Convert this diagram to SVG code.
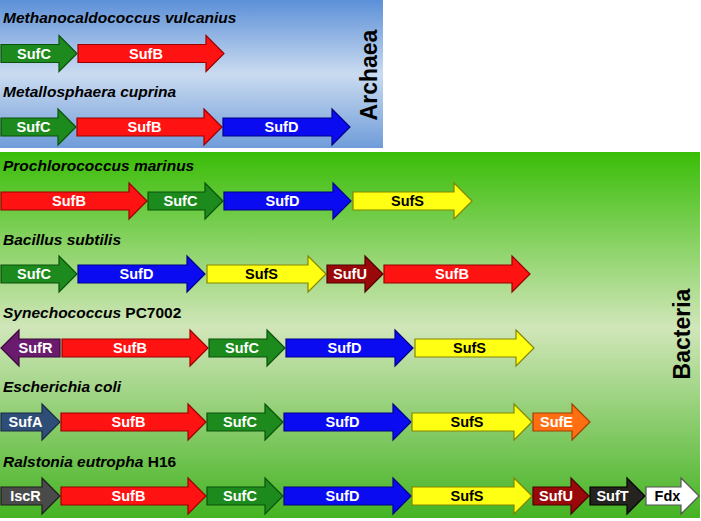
<svg xmlns="http://www.w3.org/2000/svg" width="701" height="521" viewBox="0 0 701 521">
<defs>
<linearGradient id="gArch" x1="0" y1="0" x2="0" y2="1">
<stop offset="0" stop-color="#5c90d8"/>
<stop offset="0.5" stop-color="#cadbf0"/>
<stop offset="1" stop-color="#6f9cd9"/>
</linearGradient>
<linearGradient id="gBact" x1="0" y1="0" x2="0" y2="1">
<stop offset="0" stop-color="#3abd08"/>
<stop offset="0.48" stop-color="#d1e6b9"/>
<stop offset="1" stop-color="#44b322"/>
</linearGradient>
</defs>
<style>
.t{font-family:"Liberation Sans",Arial,sans-serif;font-weight:bold;font-size:15.5px;fill:#000}
.i{font-style:italic}
.lab{font-family:"Liberation Sans",Arial,sans-serif;font-weight:bold;font-size:14.5px;fill:#fff;text-anchor:middle}
.dk{fill:#000}
.dom{font-family:"Liberation Sans",Arial,sans-serif;font-weight:bold;font-size:23px;fill:#000;text-anchor:middle}
.a{stroke-width:1.2;stroke-linejoin:miter}
.sufC{fill:#1c8a1c;stroke:#0b520b}
.sufB{fill:#ff1212;stroke:#9a0000}
.sufD{fill:#0b0bf2;stroke:#000088}
.sufS{fill:#ffff14;stroke:#858500}
.sufU{fill:#990909;stroke:#4c0000}
.sufR{fill:#6b1b6d;stroke:#380a3a}
.sufA{fill:#2e4e78;stroke:#182a44}
.sufE{fill:#ff6f12;stroke:#a04000}
.iscR{fill:#4a4a4a;stroke:#1e1e1e}
.sufT{fill:#252320;stroke:#000}
.fdx{fill:#ffffff;stroke:#555}
</style>

<rect id="archaea-bg" x="0" y="0" width="383" height="148" fill="url(#gArch)"/>
<rect id="bacteria-bg" x="0" y="152" width="700" height="366" fill="url(#gBact)"/>

<text class="dom" transform="translate(377,75) rotate(-90)" x="0" y="0">Archaea</text>
<text class="dom" transform="translate(690,334) rotate(-90)" x="0" y="0">Bacteria</text>

<g id="org-mvulcanius">
<text class="t i" x="3" y="23">Methanocaldococcus vulcanius</text>
<g id="mv-sufC"><polygon class="a sufC" points="1,44.5 59,44.5 59,35.5 77,53.5 59,71.5 59,62.5 1,62.5"/><text class="lab" x="34" y="58.5">SufC</text></g>
<g id="mv-sufB"><polygon class="a sufB" points="78,44.5 206,44.5 206,35.5 224,53.5 206,71.5 206,62.5 78,62.5"/><text class="lab" x="146" y="58.5">SufB</text></g>
</g>

<g id="org-mcuprina">
<text class="t i" x="3" y="97">Metallosphaera cuprina</text>
<g id="mc-sufC"><polygon class="a sufC" points="1,118 58,118 58,109 76,127 58,145 58,136 1,136"/><text class="lab" x="33.5" y="132">SufC</text></g>
<g id="mc-sufB"><polygon class="a sufB" points="77,118 204,118 204,109 222,127 204,145 204,136 77,136"/><text class="lab" x="144.5" y="132">SufB</text></g>
<g id="mc-sufD"><polygon class="a sufD" points="223,118 332,118 332,109 350,127 332,145 332,136 223,136"/><text class="lab" x="281.5" y="132">SufD</text></g>
</g>

<g id="org-pmarinus">
<text class="t i" x="3" y="171">Prochlorococcus marinus</text>
<g id="pm-sufB"><polygon class="a sufB" points="1,192 129,192 129,183 147,201 129,219 129,210 1,210"/><text class="lab" x="69" y="206">SufB</text></g>
<g id="pm-sufC"><polygon class="a sufC" points="148,192 205,192 205,183 223,201 205,219 205,210 148,210"/><text class="lab" x="180.5" y="206">SufC</text></g>
<g id="pm-sufD"><polygon class="a sufD" points="224,192 333,192 333,183 351,201 333,219 333,210 224,210"/><text class="lab" x="282.5" y="206">SufD</text></g>
<g id="pm-sufS"><polygon class="a sufS" points="353,192 454,192 454,183 472,201 454,219 454,210 353,210"/><text class="lab dk" x="407.5" y="206">SufS</text></g>
</g>

<g id="org-bsubtilis">
<text class="t i" x="3" y="245">Bacillus subtilis</text>
<g id="bs-sufC"><polygon class="a sufC" points="1,265 59,265 59,256 77,274 59,292 59,283 1,283"/><text class="lab" x="34" y="279">SufC</text></g>
<g id="bs-sufD"><polygon class="a sufD" points="78,265 187,265 187,256 205,274 187,292 187,283 78,283"/><text class="lab" x="136.5" y="279">SufD</text></g>
<g id="bs-sufS"><polygon class="a sufS" points="207,265 308,265 308,256 326,274 308,292 308,283 207,283"/><text class="lab dk" x="261.5" y="279">SufS</text></g>
<g id="bs-sufU"><polygon class="a sufU" points="327,265 365,265 365,256 383,274 365,292 365,283 327,283"/><text class="lab" x="350" y="279">SufU</text></g>
<g id="bs-sufB"><polygon class="a sufB" points="384,265 512,265 512,256 530,274 512,292 512,283 384,283"/><text class="lab" x="452" y="279">SufB</text></g>
</g>

<g id="org-synechococcus">
<text class="t" x="3" y="318"><tspan class="i">Synechococcus</tspan> PC7002</text>
<g id="sy-sufR"><polygon class="a sufR" points="60,339 19,339 19,330 1,348 19,366 19,357 60,357"/><text class="lab" x="35.5" y="353">SufR</text></g>
<g id="sy-sufB"><polygon class="a sufB" points="62,339 190,339 190,330 208,348 190,366 190,357 62,357"/><text class="lab" x="130" y="353">SufB</text></g>
<g id="sy-sufC"><polygon class="a sufC" points="209,339 267,339 267,330 285,348 267,366 267,357 209,357"/><text class="lab" x="242" y="353">SufC</text></g>
<g id="sy-sufD"><polygon class="a sufD" points="286,339 395,339 395,330 413,348 395,366 395,357 286,357"/><text class="lab" x="344.5" y="353">SufD</text></g>
<g id="sy-sufS"><polygon class="a sufS" points="415,339 516,339 516,330 534,348 516,366 516,357 415,357"/><text class="lab dk" x="469.5" y="353">SufS</text></g>
</g>

<g id="org-ecoli">
<text class="t i" x="3" y="392">Escherichia coli</text>
<g id="ec-sufA"><polygon class="a sufA" points="1,413 42,413 42,404 60,422 42,440 42,431 1,431"/><text class="lab" x="25.5" y="427">SufA</text></g>
<g id="ec-sufB"><polygon class="a sufB" points="61,413 188,413 188,404 206,422 188,440 188,431 61,431"/><text class="lab" x="128.5" y="427">SufB</text></g>
<g id="ec-sufC"><polygon class="a sufC" points="207,413 265,413 265,404 283,422 265,440 265,431 207,431"/><text class="lab" x="240" y="427">SufC</text></g>
<g id="ec-sufD"><polygon class="a sufD" points="284,413 393,413 393,404 411,422 393,440 393,431 284,431"/><text class="lab" x="342.5" y="427">SufD</text></g>
<g id="ec-sufS"><polygon class="a sufS" points="412,413 514,413 514,404 532,422 514,440 514,431 412,431"/><text class="lab dk" x="467" y="427">SufS</text></g>
<g id="ec-sufE"><polygon class="a sufE" points="533,413 572,413 572,404 590,422 572,440 572,431 533,431"/><text class="lab" x="556.5" y="427">SufE</text></g>
</g>

<g id="org-reutropha">
<text class="t" x="3" y="467"><tspan class="i">Ralstonia eutropha</tspan> H16</text>
<g id="re-iscR"><polygon class="a iscR" points="1,487 42,487 42,478 60,496 42,514 42,505 1,505"/><text class="lab" x="25.5" y="501">IscR</text></g>
<g id="re-sufB"><polygon class="a sufB" points="61,487 188,487 188,478 206,496 188,514 188,505 61,505"/><text class="lab" x="128.5" y="501">SufB</text></g>
<g id="re-sufC"><polygon class="a sufC" points="207,487 265,487 265,478 283,496 265,514 265,505 207,505"/><text class="lab" x="240" y="501">SufC</text></g>
<g id="re-sufD"><polygon class="a sufD" points="284,487 393,487 393,478 411,496 393,514 393,505 284,505"/><text class="lab" x="342.5" y="501">SufD</text></g>
<g id="re-sufS"><polygon class="a sufS" points="412,487 514,487 514,478 532,496 514,514 514,505 412,505"/><text class="lab dk" x="467" y="501">SufS</text></g>
<g id="re-sufU"><polygon class="a sufU" points="533,487 571,487 571,478 589,496 571,514 571,505 533,505"/><text class="lab" x="556" y="501">SufU</text></g>
<g id="re-sufT"><polygon class="a sufT" points="590,487 627,487 627,478 645,496 627,514 627,505 590,505"/><text class="lab" x="612.5" y="501">SufT</text></g>
<g id="re-fdx"><polygon class="a fdx" points="646,487 681,487 681,478 699,496 681,514 681,505 646,505"/><text class="lab dk" x="667.5" y="501">Fdx</text></g>
</g>

<g id="connectors"/>
</svg>
